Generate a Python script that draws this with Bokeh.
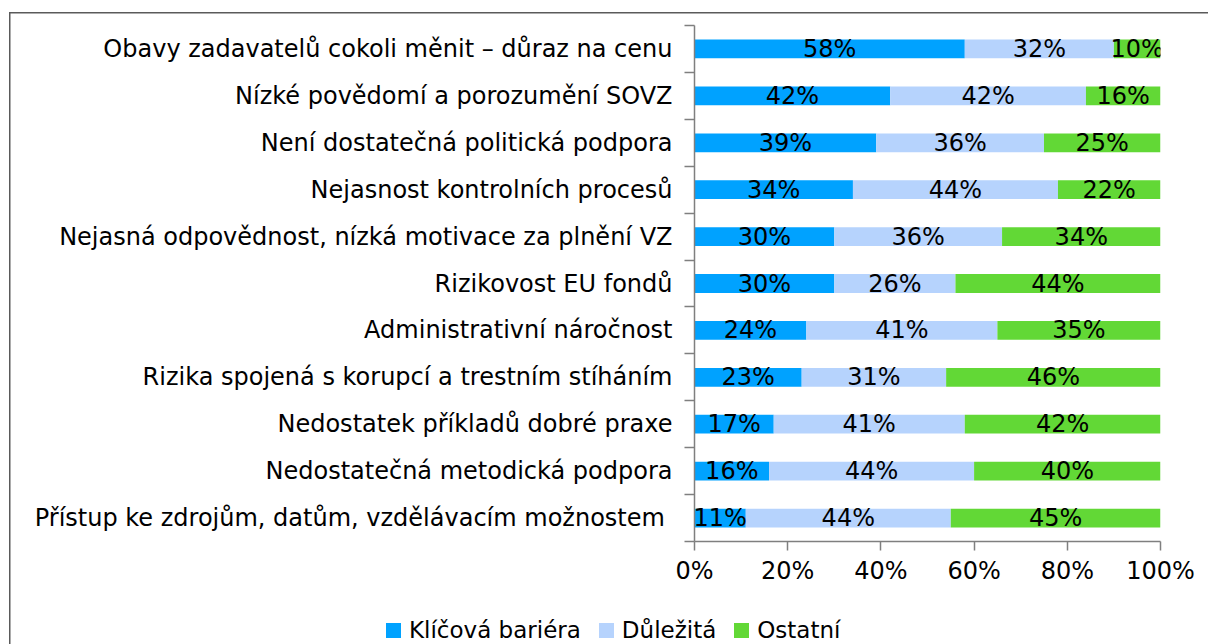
from bokeh.plotting import figure
from bokeh.layouts import column
from bokeh.models import ColumnDataSource, FixedTicker, Range1d, Div
from bokeh.core.properties import value
from bokeh.embed import file_html
from bokeh.resources import INLINE

categories = [
    "Obavy zadavatelů cokoli měnit – důraz na cenu",
    "Nízké povědomí a porozumění SOVZ",
    "Není dostatečná politická podpora",
    "Nejasnost kontrolních procesů",
    "Nejasná odpovědnost, nízká motivace za plnění VZ",
    "Rizikovost EU fondů",
    "Administrativní náročnost",
    "Rizika spojená s korupcí a trestním stíháním",
    "Nedostatek příkladů dobré praxe",
    "Nedostatečná metodická podpora",
    "Přístup ke zdrojům, datům, vzdělávacím možnostem ",
]
klicova = [58, 42, 39, 34, 30, 30, 24, 23, 17, 16, 11]
dulezita = [32, 42, 36, 44, 36, 26, 41, 31, 41, 44, 44]
ostatni = [10, 16, 25, 22, 34, 44, 35, 46, 42, 40, 45]
series_names = ["Klíčová bariéra", "Důležitá", "Ostatní"]
colors = ["#00A2FF", "#B6D3FD", "#62D836"]
x_ticks = [0, 20, 40, 60, 80, 100]

FONT = "DejaVu Sans"
FS = "24px"
LEG_FS = "23px"

n = len(categories)
ys = [n - 1 - i for i in range(n)]

src = ColumnDataSource(dict(y=ys, k=klicova, d=dulezita, o=ostatni))

frame_css = ("linear-gradient(#5a5a5a,#5a5a5a) 9px 12px / 3000px 1.5px no-repeat, "
             "linear-gradient(#5a5a5a,#5a5a5a) 9px 12px / 1.5px 3000px no-repeat, #ffffff")

p = figure(width=1208, height=600, output_backend="svg", toolbar_location=None,
           x_range=Range1d(0, 100), y_range=Range1d(-0.5, n - 0.5),
           min_border_left=694, min_border_right=48, min_border_top=25, min_border_bottom=59)
p.border_fill_color = None
p.background_fill_color = None
p.outline_line_color = None
p.xgrid.grid_line_color = None
p.ygrid.grid_line_color = None

p.hbar_stack(["k", "d", "o"], y="y", height=0.4, color=colors, line_color=None, source=src)

# percentage labels
lx, ly, lt = [], [], []
for i in range(n):
    vals = [klicova[i], dulezita[i], ostatni[i]]
    start = 0
    for v in vals:
        lx.append(start + v / 2)
        ly.append(ys[i])
        lt.append(f"{v}%")
        start += v
p.text(x=lx, y=ly, text=lt, text_align="center", text_baseline="middle",
       text_font=value(FONT), text_font_size=value(FS), text_color="#000000")

# axes
ax = p.xaxis[0]
ax.ticker = FixedTicker(ticks=x_ticks)
ax.major_label_overrides = {t: f"{t}%" for t in x_ticks}
ax.major_tick_out = 9
ax.major_tick_in = 0
ax.minor_tick_out = 0
ax.minor_tick_in = 0
ax.axis_line_color = "#7f7f7f"
ax.axis_line_width = 1.5
ax.major_tick_line_color = "#7f7f7f"
ax.major_tick_line_width = 1.5
ax.major_label_text_font = FONT
ax.major_label_text_font_size = FS
ax.major_label_text_color = "#000000"
ax.major_label_standoff = 6

ay = p.yaxis[0]
ay.ticker = FixedTicker(ticks=ys, minor_ticks=[y - 0.5 for y in range(n + 1)])
ay.major_label_overrides = {ys[i]: categories[i] for i in range(n)}
ay.major_tick_out = 0
ay.major_tick_in = 0
ay.major_tick_line_color = None
ay.minor_tick_out = 10
ay.minor_tick_in = 0
ay.minor_tick_line_color = "#7f7f7f"
ay.minor_tick_line_width = 1.5
ay.axis_line_color = "#7f7f7f"
ay.axis_line_width = 1.5
ay.major_label_text_font = FONT
ay.major_label_text_font_size = FS
ay.major_label_text_color = "#000000"
ay.major_label_standoff = 12

# legend strip below the chart (HTML)
items_html = "".join(
    f'<span style="display:inline-block;width:15px;height:15px;background:{c};margin-right:8px;flex:none"></span>'
    f'<span style="margin-right:18px">{name}</span>'
    for name, c in zip(series_names, colors)
)
legend_html = (
    '<div style="position:relative;width:1208px;height:44px;">'
    '<div style="position:absolute;left:386px;top:15px;height:30px;display:flex;align-items:center;'
    f'font-family:\'{FONT}\';font-size:{LEG_FS};color:#000000;white-space:nowrap;line-height:30px;">'
    f'{items_html}</div></div>'
)
lg = Div(text=legend_html, width=1208, height=44, margin=(0, 0, 0, 0))

layout = column(p, lg, spacing=0, styles={"background": frame_css})

open("out.html", "w").write(file_html(layout, INLINE))
